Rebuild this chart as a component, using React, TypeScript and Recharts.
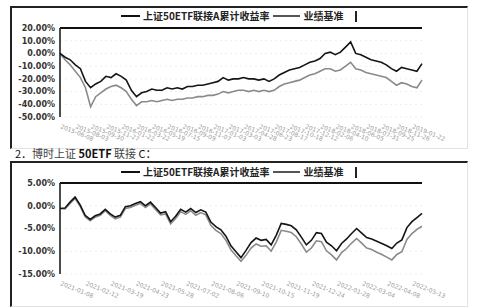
import {
  LineChart,
  Line,
  XAxis,
  YAxis,
  CartesianGrid,
  ReferenceLine,
} from "recharts";

// A share, since inception (semi-monthly points)
const datesA = [
  "2015-06-08", "2015-06-26", "2015-07-14", "2015-08-03", "2015-08-21", "2015-09-10",
  "2015-09-30", "2015-10-22", "2015-11-09", "2015-11-27", "2015-12-15", "2016-01-04",
  "2016-01-22", "2016-02-16", "2016-03-04", "2016-03-22", "2016-04-11", "2016-04-29",
  "2016-05-19", "2016-06-07", "2016-06-27", "2016-07-15", "2016-08-02", "2016-08-22",
  "2016-09-09", "2016-09-29", "2016-10-19", "2016-11-07", "2016-11-25", "2016-12-13",
  "2017-01-03", "2017-01-20", "2017-02-13", "2017-03-03", "2017-03-21", "2017-04-11",
  "2017-04-28", "2017-05-17", "2017-06-06", "2017-06-23", "2017-07-12", "2017-07-31",
  "2017-08-17", "2017-09-05", "2017-09-22", "2017-10-18", "2017-11-06", "2017-11-23",
  "2017-12-12", "2017-12-29", "2018-01-18", "2018-02-06", "2018-03-01", "2018-03-20",
  "2018-04-10", "2018-04-27", "2018-05-17", "2018-06-05", "2018-06-25", "2018-07-12",
  "2018-07-31", "2018-08-17", "2018-09-05", "2018-09-25", "2018-10-19", "2018-11-07",
  "2018-11-26", "2018-12-13", "2019-01-03", "2019-01-22", "2019-02-15", "2019-03-06",
];
const fundA = [
  0, -3, -5, -9, -12, -22, -27, -24, -22, -18, -19, -16,
  -18, -21, -29, -34, -31, -30, -28, -29, -29, -27, -28, -27,
  -28, -26, -26, -25, -25, -24, -23, -22, -19, -21, -20, -20,
  -19, -20, -20, -21, -20, -22, -20, -17, -15, -13, -12, -11,
  -9, -7, -6, -4, 0, 1, -1, 1, 5, 9, 0, -1,
  -3, -5, -6, -7, -9, -12, -14, -11, -12, -13, -14, -8,
];
const benchA = [
  0, -5, -9, -14, -19, -27, -42, -34, -31, -28, -26, -25,
  -27, -30, -36, -41, -38, -38, -37, -38, -37, -36, -37, -36,
  -36, -35, -35, -34, -34, -33, -33, -32, -30, -31, -30, -29,
  -29, -30, -29, -30, -29, -30, -29, -26, -24, -23, -22, -21,
  -19, -17, -16, -14, -12, -12, -14, -13, -10, -7, -12, -13,
  -15, -16, -17, -18, -19, -22, -25, -23, -24, -26, -27, -21,
];
const ticksA = [20, 10, 0, -10, -20, -30, -40, -50];

// C share (weekly points)
const datesC = [
  "2021-01-08", "2021-01-15", "2021-01-22", "2021-01-29", "2021-02-05", "2021-02-12",
  "2021-02-19", "2021-02-26", "2021-03-05", "2021-03-12", "2021-03-19", "2021-03-26",
  "2021-04-02", "2021-04-09", "2021-04-16", "2021-04-23", "2021-04-30", "2021-05-07",
  "2021-05-14", "2021-05-21", "2021-05-28", "2021-06-04", "2021-06-11", "2021-06-18",
  "2021-06-25", "2021-07-02", "2021-07-09", "2021-07-16", "2021-07-23", "2021-07-30",
  "2021-08-06", "2021-08-13", "2021-08-20", "2021-08-27", "2021-09-03", "2021-09-10",
  "2021-09-17", "2021-09-24", "2021-10-01", "2021-10-08", "2021-10-15", "2021-10-22",
  "2021-10-29", "2021-11-05", "2021-11-12", "2021-11-19", "2021-11-26", "2021-12-03",
  "2021-12-10", "2021-12-17", "2021-12-24", "2021-12-31", "2022-01-07", "2022-01-14",
  "2022-01-21", "2022-01-28", "2022-02-04", "2022-02-11", "2022-02-18", "2022-02-25",
  "2022-03-04", "2022-03-11", "2022-03-18", "2022-03-25", "2022-04-01", "2022-04-08",
  "2022-04-15", "2022-04-22", "2022-04-29", "2022-05-06", "2022-05-13", "2022-05-20",
  "2022-05-27",
];
const fundC = [
  -0.6, -0.5, 0.8, 1.9, 0.2, -2.1, -3.0, -2.2, -1.8, -0.8, -1.8, -2.5,
  -2.1, -0.2, 0, 0.5, 0.9, 0, 0.8, -0.4, -1.6, -1.3, -3.5, -2.3,
  -0.8, -1.4, -0.6, -1.5, -0.9, -1.4, -3.6, -4.6, -5.3, -6.7, -8.8, -10.1,
  -11.4, -9.8, -8.1, -7.1, -7.6, -7.4, -8.6, -6.5, -3.9, -4.1, -4.4, -5.3,
  -6.9, -8.6, -7.6, -5.9, -6.1, -8.0, -8.8, -9.9, -8.3, -7.3, -6.1, -5.0,
  -6.0, -7.0, -7.3, -7.8, -8.3, -8.8, -9.4, -8.2, -7.5, -4.8, -3.5, -2.6,
  -1.7,
];
const benchC = [
  -0.6, -0.7, 0.5, 1.6, -0.1, -2.4, -3.3, -2.5, -2.1, -1.1, -2.1, -2.9,
  -2.5, -0.6, -0.4, 0.1, 0.5, -0.4, 0.4, -0.8, -2.0, -1.8, -4.0, -2.8,
  -1.3, -1.9, -1.1, -2.1, -1.5, -2.0, -4.3, -5.4, -6.1, -7.6, -9.7, -11.0,
  -12.2, -10.9, -9.3, -8.4, -8.9, -8.8, -10.0, -8.0, -5.4, -5.6, -5.9, -6.8,
  -8.4, -10.2, -9.3, -7.7, -7.9, -9.9, -10.8, -11.9, -10.3, -9.4, -8.2, -7.2,
  -8.2, -9.3, -9.6, -10.2, -10.7, -11.3, -11.9, -10.7, -10.1, -7.4, -6.1, -5.2,
  -4.5,
];
const ticksC = [5, 0, -5, -10, -15];

const fundLabel = "上证50ETF联接A累计收益率";
const benchLabel = "业绩基准";

const dataA = datesA.map((d, i) => ({ date: d, fund: fundA[i], bench: benchA[i] }));
const dataC = datesC.map((d, i) => ({ date: d, fund: fundC[i], bench: benchC[i] }));

const FONT = "'Noto Sans CJK SC', 'DejaVu Sans', sans-serif";

function DateTick(props: any) {
  const { x, y, payload } = props;
  return (
    <g transform={`translate(${x},${y + 3})`}>
      <text textAnchor="start" transform="rotate(22)" fontSize={6} fill="#9a9a9a" fontFamily="DejaVu Sans">
        {payload.value}
      </text>
    </g>
  );
}

function LegendRow({ top }: { top: number }) {
  return (
    <div
      style={{
        position: "absolute",
        left: 121,
        top,
        display: "flex",
        alignItems: "center",
        fontSize: 10,
        fontWeight: "bold",
        color: "#222",
        fontFamily: FONT,
        lineHeight: "12px",
        whiteSpace: "nowrap",
      }}
    >
      <span style={{ width: 19, height: 2, background: "#111", display: "inline-block" }} />
      <span style={{ marginLeft: 3 }}>{fundLabel}</span>
      <span style={{ width: 27, height: 2, background: "#555", display: "inline-block", marginLeft: 4 }} />
      <span style={{ marginLeft: 3 }}>{benchLabel}</span>
      <span style={{ width: 0, height: 11, borderLeft: "2px solid #222", display: "inline-block", marginLeft: 12 }} />
    </div>
  );
}

function Panel({ data, domain, ticks, top, height, every }: any) {
  return (
    <div style={{ position: "absolute", left: 10, top }}>
      <LineChart width={458} height={height} data={data} margin={{ top: 21, right: 46, bottom: 0, left: 0 }}>
        <CartesianGrid vertical={false} stroke="#eeeeee" strokeDasharray="2 3" />
        <XAxis
          dataKey="date"
          height={28}
          axisLine={false}
          tickLine={false}
          interval={every}
          tick={<DateTick />}
        />
        <YAxis
          width={50}
          domain={domain}
          ticks={ticks}
          tickSize={0}
          tickMargin={5}
          interval={0}
          tickFormatter={(v: number) => v.toFixed(2) + "%"}
          tick={{ fontSize: 8, fontWeight: "bold", fill: "#333", fontFamily: "DejaVu Sans" }}
          axisLine={{ stroke: "#111", strokeWidth: 1.5 }}
        />
        <ReferenceLine y={domain[1]} stroke="#111" strokeWidth={2} />
        <Line type="linear" dataKey="bench" stroke="#8a8a8a" strokeWidth={1.6} dot={false} isAnimationActive={false} />
        <Line type="linear" dataKey="fund" stroke="#151515" strokeWidth={1.6} dot={false} isAnimationActive={false} />
      </LineChart>
    </div>
  );
}

export default function App() {
  return (
    <div style={{ position: "absolute", left: 0, top: 0, width: 496, height: 308, background: "#fff", overflow: "hidden" }}>
      {/* top frame */}
      <div
        style={{
          position: "absolute",
          left: 10,
          top: 6,
          width: 458,
          height: 143,
          boxSizing: "border-box",
          borderLeft: "2px solid #222",
          borderTop: "2px solid #222",
          borderRight: "1px solid #e2e2e2",
          borderBottom: "1px solid #e2e2e2",
        }}
      />
      {/* bottom frame */}
      <div
        style={{
          position: "absolute",
          left: 10,
          top: 161,
          width: 458,
          height: 146,
          boxSizing: "border-box",
          borderLeft: "2px solid #222",
          borderTop: "2px solid #222",
          borderRight: "1px solid #e2e2e2",
          borderBottom: "1px solid #e2e2e2",
        }}
      />
      <Panel data={dataA} domain={[-50, 20]} ticks={ticksA} top={7} height={138} every={2} />
      <LegendRow top={10} />
      <div
        style={{
          position: "absolute",
          left: 15,
          top: 146,
          fontSize: 11,
          fontFamily: FONT,
          color: "#444",
          whiteSpace: "nowrap",
          lineHeight: "14px",
        }}
      >
        <span style={{ color: "#111" }}>2．</span>博时上证 <b style={{ color: "#111" }}>50ETF</b> 联接 <span style={{ color: "#111" }}>C：</span>
      </div>
      <Panel data={dataC} domain={[-15, 5]} ticks={ticksC} top={162} height={140} every={4} />
      <LegendRow top={166} />
    </div>
  );
}
